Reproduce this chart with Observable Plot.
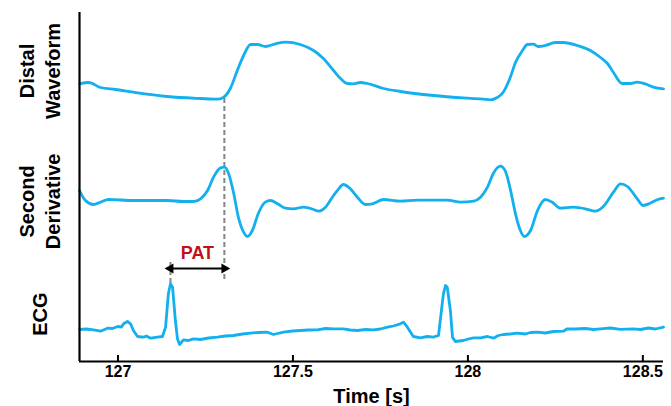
<!DOCTYPE html>
<html><head><meta charset="utf-8">
<script src="https://cdn.jsdelivr.net/npm/d3@7"></script>
<script src="https://cdn.jsdelivr.net/npm/@observablehq/plot@0.6"></script>
<style>body{margin:0;background:#fff} #chart svg{display:block}</style>
</head><body><div id="chart"></div>
<script>
// ---- data (time in s, amplitude in arbitrary units relative to each trace's baseline) ----
const distalT = [126.890,126.916,126.950,126.993,127.044,127.141,127.236,127.284,127.301,127.321,127.341,127.359,127.379,127.399,127.421,127.450,127.479,127.521,127.559,127.587,127.616,127.636,127.655,127.673,127.693,127.713,127.759,127.807,127.901,127.999,128.044,128.064,128.084,128.101,128.121,128.136,128.156,128.170,128.187,128.201,128.221,128.250,128.273,128.313,128.350,128.379,128.399,128.416,128.441,128.464,128.484,128.507,128.530,128.559];
const distalV = [15.7,17,12,10,7.3,3,1,0.3,2,11,29,44,55,55,53,55.7,57.3,55,49,41,29,21,16,15.7,17,16,11,8,4,1.3,0.3,-0.3,2,7.3,22,37,49,55,55.3,53,54,57,57,54,49,42,36,27,16,16,17.3,15.7,12.3,10.7];

const derivT = [126.890,126.907,126.930,126.950,126.973,127.044,127.141,127.187,127.216,127.236,127.256,127.273,127.293,127.304,127.316,127.330,127.344,127.359,127.370,127.384,127.401,127.421,127.436,127.456,127.479,127.501,127.530,127.559,127.573,127.593,127.616,127.627,127.644,127.664,127.684,127.707,127.727,127.759,127.807,127.856,127.941,127.979,128.016,128.036,128.056,128.073,128.093,128.107,128.121,128.136,128.150,128.161,128.179,128.199,128.221,128.241,128.264,128.301,128.336,128.364,128.387,128.416,128.436,128.456,128.484,128.501,128.521,128.541,128.559];
const derivV = [10,0,-4,-1.7,1,0,0,-1,-1,1.7,10,23.3,32.7,33.3,27,8.3,-16.7,-31.7,-36,-30,-13,-1.7,0,-3.3,-7.7,-8.3,-6.7,-9,-10.7,-6.7,5,10,16,11.7,3.3,-4,-3.3,1,-0.7,0.3,0.3,-1.7,-0.7,3.3,13.3,27.3,34.3,29.3,11.7,-13.3,-30,-36,-30,-10,1,-1.7,-7.7,-6.7,-8.3,-10.7,-6,8.3,16.7,14,1.7,-5,-2.7,0.7,2.3];

const ecgT = [126.890,126.910,126.930,126.950,126.970,126.984,126.999,127.010,127.016,127.027,127.036,127.044,127.056,127.073,127.081,127.093,127.113,127.127,127.136,127.144,127.150,127.156,127.164,127.170,127.176,127.187,127.201,127.216,127.236,127.259,127.284,127.307,127.330,127.356,127.379,127.401,127.427,127.444,127.473,127.499,127.521,127.544,127.570,127.593,127.616,127.644,127.664,127.684,127.707,127.730,127.750,127.770,127.787,127.807,127.816,127.827,127.844,127.864,127.884,127.901,127.916,127.921,127.930,127.936,127.941,127.950,127.956,127.964,127.987,128.001,128.016,128.036,128.056,128.073,128.087,128.101,128.121,128.141,128.164,128.179,128.199,128.221,128.244,128.273,128.284,128.307,128.336,128.359,128.379,128.407,128.436,128.473,128.493,128.516,128.536,128.559];
const ecgV = [1,1.5,0.7,-0.7,2.3,2,4,3.5,6.7,9,6.7,0,-6,-6.7,-5.5,-7.7,-6.7,-6,3.3,36.7,46.7,43.3,10,-8.3,-14,-9.3,-10,-8.3,-9,-7.5,-6.7,-5.5,-5,-3.5,-2.7,-2,-1.7,-4,-1.7,-0.5,0,0.5,0.7,2,1.7,1.7,0.5,0,1,0.7,1.5,3.3,4.5,6.7,8.3,3.3,-6,-7.3,-6,-6.7,-5,10,36.7,45,43.3,20,-6.7,-11,-10,-8.5,-7.3,-7.3,-6,-7.7,-5,-4,-3.5,-2.7,-3.5,-2,-1.7,-2.5,-1,-0.7,1.7,1.5,2,1,1.7,2.5,1.2,1.7,1,2.5,1.5,3.3];

const seriesNames = ["Distal\nWaveform", "Second\nDerivative", "ECG"];
const seriesOffsets = [262, 161, 31];
const tickValues = [127, 127.5, 128, 128.5];
const xDomain = [126.89, 128.559];
const yDomain = [0, 349];
const annotationText = "PAT";
const arrowLevel = 93;      // y level of PAT arrow (plot units)
const dashBottom = 80;      // lower end of the dashed guides

const traceColor = "#12b0ee";

// ---- build tables ----
const series = [
  {name: seriesNames[0], t: distalT, v: distalV, off: seriesOffsets[0], curve: "monotone-x"},
  {name: seriesNames[1], t: derivT, v: derivV, off: seriesOffsets[1], curve: "monotone-x"},
  {name: seriesNames[2], t: ecgT, v: ecgV, off: seriesOffsets[2], curve: "linear"}
];
const rows = s => s.t.map((t, i) => ({t, y: s.v[i] + s.off, name: s.name}));

const labelRows = series.map(s => ({name: s.name, y: s.off + (d3.min(s.v) + d3.max(s.v)) / 2}));

// PAT: ECG R-peak to second-derivative peak in the first beat
const firstBeat = (T, V) => {
  let best = -1;
  T.forEach((t, i) => { if (t < 127.5 && (best < 0 || V[i] > V[best])) best = i; });
  return best;
};
const rIdx = firstBeat(ecgT, ecgV);
const dIdx = firstBeat(derivT, derivV);
const tR = ecgT[rIdx], tD = derivT[dIdx];
const footIdx = d3.minIndex(distalT, t => Math.abs(t - tD));
const dashes = [
  {t: tR, y1: arrowLevel + 6, y2: dashBottom - 2},
  {t: tD, y1: distalV[footIdx] + seriesOffsets[0] - 1, y2: dashBottom - 1}
];

const chart = Plot.plot({
  width: 671, height: 406,
  marginLeft: 79, marginRight: 8, marginTop: 12, marginBottom: 45,
  style: {fontFamily: "'Liberation Sans', Arial, sans-serif", fontSize: "16px", fontWeight: "bold", background: "#fff"},
  x: {domain: xDomain},
  y: {domain: yDomain, axis: null},
  marks: [
    Plot.ruleX(dashes, {x: "t", y1: "y1", y2: "y2", stroke: "#858585", strokeWidth: 2, strokeDasharray: "5,3"}),
    ...series.map(s => Plot.line(rows(s), {x: "t", y: "y", stroke: traceColor, strokeWidth: 2.8, curve: s.curve})),
    Plot.link([{x1: tR, x2: tD, y: arrowLevel}], {x1: "x1", x2: "x2", y1: "y", y2: "y", stroke: "#000", strokeWidth: 2.2, insetLeft: 3, insetRight: 3}),
    Plot.dot([{x: tR, y: arrowLevel, r: -90}, {x: tD, y: arrowLevel, r: 90}], {x: "x", y: "y", rotate: "r", symbol: "triangle", r: 3.8, fill: "#000", stroke: "none"}),
    Plot.text([annotationText], {x: (tR + tD) / 2, y: arrowLevel + 15, text: d => d, fill: "#c0101a", fontSize: 18, fontWeight: "bold"}),
    Plot.text(labelRows, {y: "y", text: "name", frameAnchor: "left", textAnchor: "middle", dx: -41, rotate: -90, fontSize: 20, fontWeight: "bold", lineHeight: 1.3, fill: "#000"}),
    Plot.ruleY([yDomain[0]], {stroke: "#000", strokeWidth: 2.2}),
    Plot.ruleX([xDomain[0]], {y1: yDomain[0], y2: yDomain[1], stroke: "#000", strokeWidth: 2.2}),
    Plot.axisX({ticks: tickValues, tickSize: -6, tickPadding: 10, strokeWidth: 2, stroke: "#000", fill: "#000", fontSize: 16, fontWeight: "bold", label: null, tickFormat: d => String(d)}),
    Plot.text(["Time [s]"], {frameAnchor: "bottom", lineAnchor: "middle", dy: 35, text: d => d, fontSize: 20, fontWeight: "bold", fill: "#000"})
  ]
});
document.getElementById("chart").appendChild(chart);
</script></body></html>
